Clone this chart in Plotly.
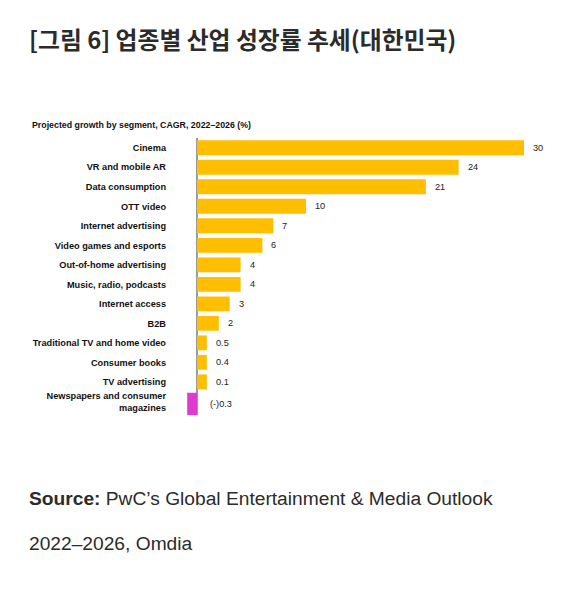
import plotly.graph_objects as go

# 데이터
segments = [
    "Cinema", "VR and mobile AR", "Data consumption", "OTT video",
    "Internet advertising", "Video games and esports", "Out-of-home advertising",
    "Music, radio, podcasts", "Internet access", "B2B",
    "Traditional TV and home video", "Consumer books", "TV advertising",
    "Newspapers and consumer<br>magazines",
]
growth = [30, 24, 21, 10, 7, 6, 4, 4, 3, 2, 0.5, 0.4, 0.1, -0.3]
value_labels = ["30", "24", "21", "10", "7", "6", "4", "4", "3", "2",
                "0.5", "0.4", "0.1", "(-)0.3"]

# 원본처럼 아주 작은 값도 보이도록 최소 막대 길이 적용
MIN_BAR = 0.9
drawn = [(1 if v >= 0 else -1) * max(abs(v), MIN_BAR) for v in growth]
colors = ["#FFBF00" if v >= 0 else "#E03BCF" for v in growth]
widths = [0.76] * (len(segments) - 1) + [1.18]
# 마지막(두 줄) 항목은 살짝 아래로
offsets = [-w / 2 for w in widths]
offsets[-1] += 0.15

W, H = 567, 593
OFF = 8  # 페이지 body 여백
L, R, T, B = 170 - OFF, 550 - OFF, 138 - OFF, 415 - OFF
PW, PH = R - L, B - T
px_per_unit = 10.9
xmin = -(197 - OFF - L) / px_per_unit
xmax = xmin + PW / px_per_unit


def fx(x):
    return (x - OFF - L) / PW


def fy(y):
    return (B - (y - OFF)) / PH


fig = go.Figure()
fig.add_trace(go.Bar(
    x=drawn, y=segments, orientation="h",
    marker=dict(color=colors, line_width=0),
    width=widths, offset=offsets,
    hoverinfo="skip",
))

annotations = []
for i, (seg, d, lab) in enumerate(zip(segments, drawn, value_labels)):
    annotations.append(dict(
        x=max(d, 0), y=seg, xref="x", yref="y", text=lab, showarrow=False,
        xanchor="left", xshift=7 if d > 0 else 11,
        yshift=-3 if i == len(segments) - 1 else 0,
        font=dict(family="Liberation Sans, Arial", size=9.2, color="#222222"),
    ))

# 제목, 부제, 출처
annotations.append(dict(
    x=fx(27), y=fy(38), xref="paper", yref="paper", showarrow=False,
    xanchor="left", yanchor="middle",
    text="<b>[그림 6] 업종별 산업 성장률 추세(대한민국)</b>",
    font=dict(family="Noto Sans CJK KR", size=23.8, color="#2b2b2b"),
))
annotations.append(dict(
    x=fx(30), y=fy(125), xref="paper", yref="paper", showarrow=False,
    xanchor="left", yanchor="middle",
    text="<b>Projected growth by segment, CAGR, 2022–2026 (%)</b>",
    font=dict(family="Liberation Sans, Arial", size=8.8, color="#111111"),
))
annotations.append(dict(
    x=fx(27), y=fy(499), xref="paper", yref="paper", showarrow=False,
    xanchor="left", yanchor="middle",
    text="<b>Source:</b> PwC’s Global Entertainment & Media Outlook",
    font=dict(family="Liberation Sans, Arial", size=19.2, color="#2b2b2b"),
))
annotations.append(dict(
    x=fx(27), y=fy(543), xref="paper", yref="paper", showarrow=False,
    xanchor="left", yanchor="middle",
    text="2022–2026, Omdia",
    font=dict(family="Liberation Sans, Arial", size=19.2, color="#2b2b2b"),
))

fig.update_layout(
    width=W, height=H,
    margin=dict(l=L, r=W - R, t=T, b=H - B, pad=0),
    plot_bgcolor="white", paper_bgcolor="white",
    showlegend=False,
    annotations=annotations,
    xaxis=dict(range=[xmin, xmax], showgrid=False, showticklabels=False,
               zeroline=True, zerolinecolor="#9a9a9a", zerolinewidth=1.5,
               showline=False, fixedrange=True),
    yaxis=dict(autorange=False, range=[len(segments) - 0.3, -0.5],
               showgrid=False, zeroline=False, showline=False, ticks="",
               ticklabelstandoff=3,
               tickfont=dict(family="Liberation Sans, Arial", size=9.2,
                             color="#111111", weight="bold"),
               fixedrange=True),
)

fig.write_html("out.html")
